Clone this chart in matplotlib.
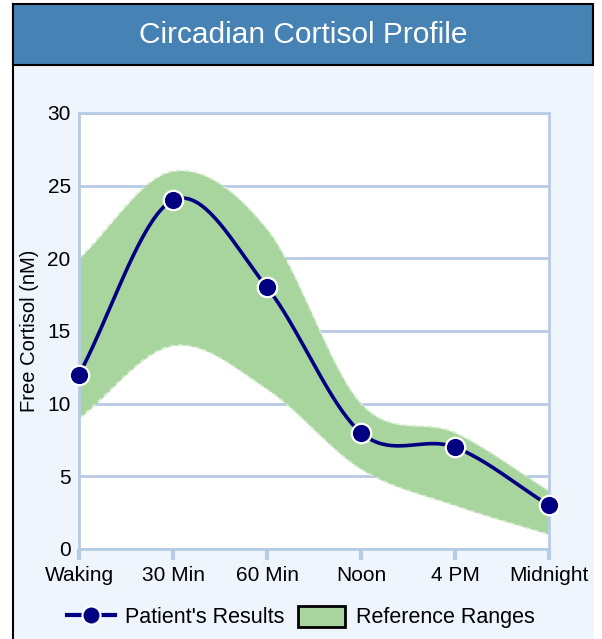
import numpy as np
import matplotlib
matplotlib.use('Agg')
import matplotlib.pyplot as plt
from matplotlib.lines import Line2D
from matplotlib.patches import Patch, Rectangle

plt.rcParams['font.family'] = ['Liberation Sans', 'DejaVu Sans']

categories = ['Waking', '30 Min', '60 Min', 'Noon', '4 PM', 'Midnight']
patient = [12, 24, 18, 8, 7, 3]
ref_upper = [20, 26, 22, 10, 8, 4]
ref_lower = [9, 14, 11, 5.5, 3, 1]
y_ticks = [0, 5, 10, 15, 20, 25, 30]


def spline(y, n=40):
    # catmull-rom through the points, x = category index
    y = np.asarray(y, dtype=float)
    m = np.gradient(y)
    xs, ys = [], []
    for i in range(len(y) - 1):
        t = np.linspace(0, 1, n, endpoint=(i == len(y) - 2))
        h00 = 2 * t**3 - 3 * t**2 + 1
        h10 = t**3 - 2 * t**2 + t
        h01 = -2 * t**3 + 3 * t**2
        h11 = t**3 - t**2
        xs.append(i + t)
        ys.append(h00 * y[i] + h10 * m[i] + h01 * y[i + 1] + h11 * m[i + 1])
    return np.concatenate(xs), np.concatenate(ys)


W, H = 602, 639
fig = plt.figure(figsize=(W / 100, H / 100), dpi=100, facecolor='white')

# panel background + title bar
fig.patches.append(Rectangle((13 / W, 0), 581 / W, 574 / H, transform=fig.transFigure,
                             facecolor='#eef5fd', edgecolor='none', zorder=-3))
fig.lines.append(Line2D([13 / W, 13 / W], [0, 635 / H], transform=fig.transFigure,
                        color='black', lw=1.5, zorder=-2))
fig.patches.append(Rectangle((13 / W, 574 / H), 580 / W, 61 / H, transform=fig.transFigure,
                             facecolor='#4682b4', edgecolor='black', lw=1.5, zorder=-1))
fig.text(303 / W, 604 / H, 'Circadian Cortisol Profile', color='white', fontsize=21.5,
         ha='center', va='center')

ax = fig.add_axes([79 / W, 90 / H, 470 / W, 436 / H])
ax.set_facecolor('white')

grid_c = '#b8cbe4'
x = np.arange(len(categories))
ux, uy = spline(ref_upper)
lx, ly = spline(ref_lower)
ax.fill_between(ux, ly, uy, color='#a8d49d', lw=0, zorder=2)
ax.plot(ux, uy, color='#d6ecd0', lw=1.2, ls=(0, (3, 2)), zorder=2)
ax.plot(lx, ly, color='#d6ecd0', lw=1.2, ls=(0, (3, 2)), zorder=2)

px, py = spline(patient)
ax.plot(px, py, color='#000080', lw=2.6, zorder=3, solid_capstyle='round')
ax.plot(x, patient, 'o', color='#000080', ms=14, mec='white', mew=1.6, zorder=4,
        clip_on=False)

ax.set_xlim(0, len(categories) - 1)
ax.set_ylim(0, 30)
ax.set_yticks(y_ticks)
ax.set_xticks(x)
ax.set_xticklabels(categories)
ax.yaxis.grid(True, color=grid_c, lw=2)
ax.set_axisbelow(True)
for s in ax.spines.values():
    s.set_color(grid_c)
    s.set_linewidth(2)
ax.tick_params(axis='y', length=0, pad=6, labelsize=15)
ax.tick_params(axis='x', length=8, width=3, color=grid_c, pad=4, labelsize=15)
ax.set_ylabel('Free Cortisol (nM)', fontsize=14.5, labelpad=6)

handles = [Line2D([], [], color='#000080', lw=3, marker='o', ms=13, mec='white', mew=1.5),
           Patch(facecolor='#a8d49d', edgecolor='black', lw=2)]
fig.legend(handles, ["Patient's Results", 'Reference Ranges'], ncol=2, frameon=False,
           loc='center', bbox_to_anchor=(301 / W, 22 / H), fontsize=15.5,
           handlelength=2.2, handleheight=1.15, columnspacing=0.6, handletextpad=0.5)

fig.savefig('out.png', dpi=100, facecolor=fig.get_facecolor())
